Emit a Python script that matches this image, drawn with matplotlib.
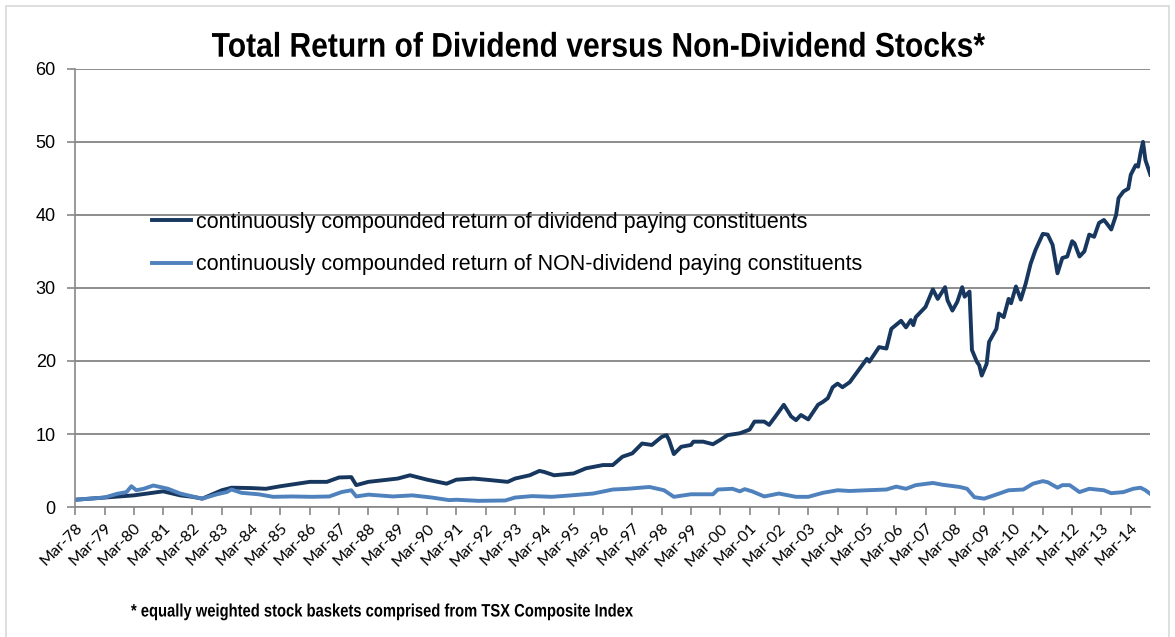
import numpy as np
import matplotlib
matplotlib.use('Agg')
import matplotlib.pyplot as plt
from matplotlib.patches import Rectangle, PathPatch
from matplotlib.textpath import TextPath
from matplotlib.font_manager import FontProperties
from matplotlib.transforms import Affine2D

# Data: months since Mar-78 and index level
div_months = [0, 12, 24, 36, 43, 48, 52, 60, 64, 72, 78, 84, 96, 103, 108, 113, 115, 120,
              132, 137, 144, 152, 156, 163, 168, 177, 180, 186, 190, 192, 196, 204, 209,
              216, 220, 224, 228, 232, 236, 240, 242, 243, 245, 248, 252, 253, 257, 261,
              264, 267, 272, 276, 278, 282, 284, 287, 290, 293, 295, 297, 300, 304, 306,
              308, 310, 312, 314, 317, 322, 324, 325, 329, 332, 334, 338, 340, 342, 343,
              344, 348, 351, 353, 356, 357, 359, 361, 363, 364, 366, 367, 369, 370, 371,
              373, 374, 377, 378, 380, 382, 383, 385, 387, 389, 391, 393, 396, 398, 400,
              402, 404, 406, 408, 409, 411, 413, 415, 417, 419, 421, 422, 424, 426, 427,
              429, 431, 432, 434, 435, 436, 437, 438, 440]
div_values = [1.0, 1.3, 1.6, 2.15, 1.6, 1.4, 1.15, 2.3, 2.65, 2.6, 2.5, 2.85, 3.45, 3.45,
              4.05, 4.1, 3.0, 3.45, 3.9, 4.35, 3.75, 3.2, 3.75, 3.9, 3.75, 3.45, 3.9, 4.35,
              4.95, 4.8, 4.35, 4.6, 5.3, 5.75, 5.75, 6.9, 7.35, 8.7, 8.5, 9.6, 9.85, 9.2,
              7.25, 8.25, 8.5, 8.95, 8.95, 8.6, 9.2, 9.85, 10.1, 10.6, 11.7, 11.7, 11.25,
              12.6, 14.0, 12.4, 11.9, 12.6, 12.0, 14.0, 14.4, 14.9, 16.4, 16.9, 16.4, 17.1,
              19.4, 20.3, 19.9, 21.9, 21.7, 24.4, 25.5, 24.6, 25.6, 24.9, 26.0, 27.4, 29.8,
              28.5, 30.1, 28.3, 26.9, 28.1, 30.1, 28.8, 29.5, 21.5, 19.9, 19.4, 18.0, 19.6,
              22.6, 24.4, 26.5, 26.0, 28.5, 27.9, 30.2, 28.4, 30.6, 33.3, 35.2, 37.4, 37.3,
              35.9, 32.0, 34.1, 34.3, 36.4, 36.1, 34.3, 35.0, 37.3, 37.0, 38.9, 39.3, 38.9,
              38.0, 40.0, 42.3, 43.2, 43.6, 45.5, 46.8, 46.6, 48.5, 50.0, 47.5, 45.5]

nondiv_months = [0, 12, 17, 21, 23, 25, 28, 32, 36, 38, 43, 48, 52, 58, 62, 64, 68, 75, 81,
                 89, 97, 104, 109, 113, 115, 120, 130, 138, 146, 153, 156, 165, 176, 180,
                 187, 195, 203, 212, 220, 226, 235, 241, 245, 252, 261, 263, 269, 272, 274,
                 277, 282, 288, 295, 300, 306, 312, 317, 324, 332, 336, 340, 344, 351, 355,
                 362, 365, 368, 372, 376, 382, 388, 392, 396, 398, 402, 404, 407, 411, 415,
                 421, 424, 429, 433, 436, 438, 440]
nondiv_values = [1.0, 1.3, 1.8, 2.05, 2.85, 2.3, 2.5, 2.95, 2.65, 2.5, 1.85, 1.45, 1.15,
                 1.75, 2.05, 2.4, 1.95, 1.75, 1.4, 1.45, 1.4, 1.45, 2.05, 2.3, 1.45, 1.7,
                 1.45, 1.6, 1.3, 0.95, 1.0, 0.85, 0.9, 1.3, 1.5, 1.4, 1.6, 1.85, 2.4, 2.5,
                 2.75, 2.3, 1.4, 1.75, 1.75, 2.4, 2.5, 2.15, 2.45, 2.15, 1.45, 1.85, 1.4,
                 1.4, 1.95, 2.3, 2.2, 2.3, 2.4, 2.8, 2.5, 3.0, 3.3, 3.05, 2.75, 2.5, 1.35,
                 1.15, 1.6, 2.3, 2.4, 3.2, 3.55, 3.4, 2.65, 3.0, 3.0, 2.05, 2.5, 2.3, 1.9,
                 2.05, 2.5, 2.65, 2.3, 1.8]

tick_labels = ['Mar-%02d' % (y % 100) for y in range(1978, 2015)]
y_ticks = [0, 10, 20, 30, 40, 50, 60]

title = 'Total Return of Dividend versus Non-Dividend Stocks*'
footnote = '* equally weighted stock baskets comprised from TSX Composite Index'

W, H = 1175, 637
fig = plt.figure(figsize=(W / 100, H / 100), dpi=100)
ax = fig.add_axes([0.064, 0.204, 0.915, 0.688])

# light frame round the whole chart
fig.patches.append(Rectangle((0.005, -0.01), 0.99, 1.0, transform=fig.transFigure,
                             fill=False, edgecolor='#d9d9d9', linewidth=1.2))

ax.plot(div_months, div_values, color='#17375e', linewidth=2.8,
        label='continuously compounded return of dividend paying constituents')
ax.plot(nondiv_months, nondiv_values, color='#4f81bd', linewidth=2.8,
        label='continuously compounded return of NON-dividend paying constituents')

# Formatting axes
ax.set_xlim(0, 440)
ax.set_ylim(0, 60)
ax.set_yticks(y_ticks)
ax.set_yticklabels([str(v) for v in y_ticks], fontsize=13, family='Liberation Sans')
ax.set_xticks(np.arange(len(tick_labels)) * 12)
ax.set_xticklabels(tick_labels, rotation=45, ha='right', rotation_mode='anchor',
                   fontsize=11.5, family='Lato')
ax.tick_params(axis='both', direction='out', length=6, color='#888888', width=1.2)
ax.tick_params(axis='y', pad=8)
ax.tick_params(axis='x', pad=4)
ax.grid(axis='y', color='#8c8c8c', linewidth=1.4)
ax.set_axisbelow(True)
for s in ['top', 'right']:
    ax.spines[s].set_visible(False)
for s in ['left', 'bottom']:
    ax.spines[s].set_color('#888888')
    ax.spines[s].set_linewidth(1.2)

leg = ax.legend(loc='upper left', bbox_to_anchor=(0.053, 0.718), frameon=False,
                handlelength=1.85, handletextpad=0.2, labelspacing=1.0,
                prop={'family': 'Liberation Sans', 'size': 15.5})

# condensed bold text (no narrow font installed): squeeze a text path sideways
bold = FontProperties(family='Liberation Sans', weight='bold')
for s, size, x0, x1, base in [(title, 34.3, 212, 985, 56.7),
                              (footnote, 18.0, 131, 633, 616.5)]:
    tp = TextPath((0, 0), s, size=size, prop=bold)
    ext = tp.get_extents()
    sx = (x1 - x0) / ext.width
    tr = Affine2D().translate(-ext.x0, 0).scale(sx, 1).translate(x0, H - base)
    fig.patches.append(PathPatch(tp, transform=tr, facecolor='black',
                                 edgecolor='none'))

plt.savefig('out.png', dpi=100)
